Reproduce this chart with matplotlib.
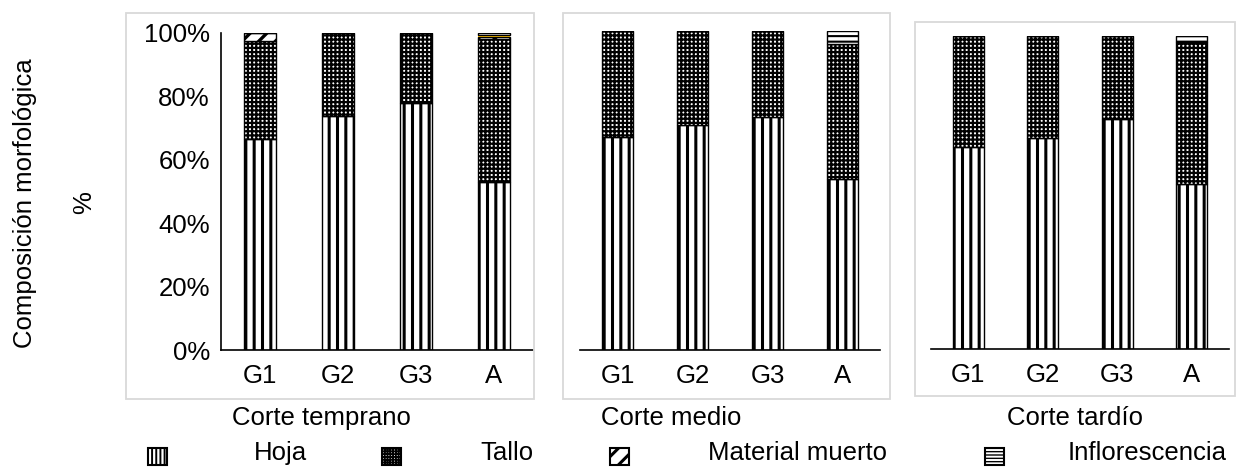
import matplotlib
matplotlib.use("Agg")
import matplotlib.pyplot as plt
from matplotlib.patches import Rectangle
from matplotlib.ticker import FuncFormatter

plt.rcParams['font.family'] = ['Liberation Sans', 'DejaVu Sans']
plt.rcParams['hatch.linewidth'] = 2.4

# ---------------- data ----------------
cortes = ['Corte temprano', 'Corte medio', 'Corte tardío']
grupos = ['G1', 'G2', 'G3', 'A']
componentes = ['Hoja', 'Tallo', 'Material muerto', 'Inflorescencia']

# rows: corte temprano, medio, tardío ; columns: G1, G2, G3, A  (percent)
hoja = [[66.6, 73.8, 77.9, 53.0],
        [66.8, 70.5, 72.9, 53.6],
        [64.5, 67.4, 73.5, 52.7]]
tallo = [[30.9, 26.2, 22.1, 45.1],
         [33.2, 29.5, 27.1, 42.4],
         [35.5, 32.6, 26.5, 45.5]]
muerto = [[2.5, 0.0, 0.0, 0.7],
          [0.0, 0.0, 0.0, 0.0],
          [0.0, 0.0, 0.0, 0.0]]
otro = [[0.0, 0.0, 0.0, 0.7],
        [0.0, 0.0, 0.0, 0.0],
        [0.0, 0.0, 0.0, 0.0]]
inflorescencia = [[0.0, 0.0, 0.0, 0.5],
                  [0.0, 0.0, 0.0, 4.0],
                  [0.0, 0.0, 0.0, 1.8]]

# ---------------- layout ----------------
W, H = 1239, 474
fig = plt.figure(figsize=(W / 100, H / 100), dpi=100)

def fx(x):
    return x / W

def fy(y):
    return 1 - y / H

def set_hlw(patch, lw):
    if hasattr(patch, 'set_hatch_linewidth'):
        patch.set_hatch_linewidth(lw)

# plot areas in pixel coords (left, right, top, bottom)
areas = [(221, 533, 33, 350), (580, 880, 31, 350), (931, 1229, 36, 349)]
boxes = [(126, 534, 13, 399), (563, 890, 13, 399), (915, 1235, 22, 396)]
titles_x = [232, 601, 1007]

FS = 18.5
series = [
    (hoja, dict(facecolor='white', edgecolor='black', hatch='||'), 2.2),
    (tallo, dict(facecolor='white', edgecolor='black', hatch='++++'), 1.6),
    (muerto, dict(facecolor='white', edgecolor='black', hatch='//'), 2.4),
    (otro, dict(facecolor='#FFC000', edgecolor='#FFC000', hatch=None), 1.0),
    (inflorescencia, dict(facecolor='white', edgecolor='black', hatch='---'), 1.5),
]

for (bl, br, bt, bb) in boxes:
    fig.patches.append(Rectangle((fx(bl), fy(bb)), fx(br - bl), (bb - bt) / H,
                                 transform=fig.transFigure, facecolor='none',
                                 edgecolor='#d9d9d9', linewidth=1.3, zorder=0))

for i, (l, r, t, b) in enumerate(areas):
    ax = fig.add_axes([fx(l), fy(b), fx(r - l), (b - t) / H])
    ax.set_facecolor('none')
    x = list(range(len(grupos)))
    bottom = [0.0] * len(grupos)
    for vals, style, hlw in series:
        v = vals[i]
        lw = 0 if style['hatch'] is None else 1.0
        bars = ax.bar(x, v, width=0.42, bottom=bottom, linewidth=lw, **style)
        for p in bars:
            set_hlw(p, hlw)
        bottom = [bb + vv for bb, vv in zip(bottom, v)]
    ax.set_xlim(-0.5, len(grupos) - 0.5)
    ax.set_ylim(0, 100)
    ax.set_xticks(x)
    ax.set_xticklabels(grupos, fontsize=FS)
    ax.tick_params(axis='x', length=0, pad=10)
    for s in ['top', 'right']:
        ax.spines[s].set_visible(False)
    ax.spines['bottom'].set_linewidth(1.2)
    if i == 0:
        ax.set_yticks([0, 20, 40, 60, 80, 100])
        ax.yaxis.set_major_formatter(FuncFormatter(lambda v, p: f"{int(v)}%"))
        ax.tick_params(axis='y', length=0, pad=8, labelsize=FS)
        ax.spines['left'].set_linewidth(1.2)
    else:
        ax.spines['left'].set_visible(False)
        ax.set_yticks([])
    fig.text(fx(titles_x[i]), fy(418), cortes[i], fontsize=FS, ha='left', va='center')

# y label
fig.text(fx(25), fy(203), 'Composición morfológica', rotation=90, fontsize=FS,
         ha='center', va='center')
fig.text(fx(84), fy(203), '%', rotation=90, fontsize=FS, ha='center', va='center')

# legend (manual)
leg_patch_x = [148, 382, 610, 985]
leg_text_x = [254, 480, 708, 1068]
leg_styles = [('||||', 1.4), ('++++++', 1.3), ('//', 2.2), ('-----', 1.0)]
for name, px, tx, (hh, hlw) in zip(componentes, leg_patch_x, leg_text_x, leg_styles):
    rect = Rectangle((fx(px), fy(465)), fx(19), 17 / H,
                     transform=fig.transFigure, facecolor='white',
                     edgecolor='black', linewidth=1.5, hatch=hh)
    set_hlw(rect, hlw)
    fig.patches.append(rect)
    fig.text(fx(tx), fy(453), name, fontsize=FS, ha='left', va='center')

fig.savefig('out.png', dpi=100)
